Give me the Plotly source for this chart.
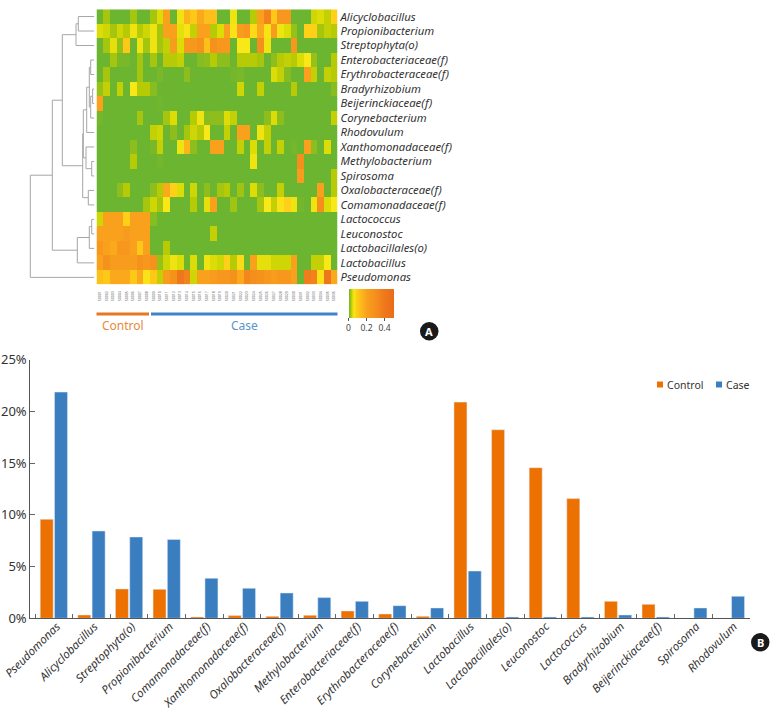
import plotly.graph_objects as go

W, H = 770, 709

# ---- Panel A data ----
row_names = ["Alicyclobacillus", "Propionibacterium", "Streptophyta(o)", "Enterobacteriaceae(f)",
             "Erythrobacteraceae(f)", "Bradyrhizobium", "Beijerinckiaceae(f)", "Corynebacterium",
             "Rhodovulum", "Xanthomonadaceae(f)", "Methylobacterium", "Spirosoma",
             "Oxalobacteraceae(f)", "Comamonadaceae(f)", "Lactococcus", "Leuconostoc",
             "Lactobacillales(o)", "Lactobacillus", "Pseudomonas"]
sample_ids = ["S%04d" % (i + 1) for i in range(36)]

alicyclobacillus = [0,.02,0,0,0,.02,0,0,.02,.04,.2,0,.05,.15,.1,.18,.12,.12, 0,0,.05,0,0,.025,.2,.35,.1,.25,.25,0,0,0,.035,.04,.03,.08]
propionibacterium = [.04,.035,.02,.035,.025,.05,.025,.035,.05,.02,.2,.2,.045,.06,.03,.2,.2,.025, .04,.2,.06,.22,.25,.07,.18,.06,.22,.05,.04,.015,0,.08,.08,.02,.03,.025]
streptophyta = [0,.02,.045,.015,.1,0,.05,.02,.05,.02,.03,.22,.04,.25,.25,.28,.12,.28, .25,.25,0,.055,.055,0,.3,.05,0,0,0,.25,0,0,0,0,0,0]
enterobacteriaceae = [0,0,.02,.005,.005,0,.02,0,.02,0,.025,.025,.03,0,0,.01,.012,.025, .012,.012,0,.025,.025,.025,.02,0,.012,.025,.03,.025,.04,.055,.015,0,0,.025]
erythrobacteraceae = [0,.02,0,0,0,0,.02,0,0,.005,0,0,0,.012,0,0,0,0, 0,0,.003,.005,0,0,0,0,.04,.03,.01,0,0,.2,.03,0,.03,.025]
bradyrhizobium = [.015,.03,0,.03,0,.055,.025,.025,.01,0,0,0,0,0,0,0,0,0, 0,0,0,.035,0,0,.03,0,0,0,0,.025,0,0,0,0,0,.01]
beijerinckiaceae = [.2,0,0,0,0,0,0,0,0,.002,0,0,0,0,0,0,0,0, 0,0,0,0,0,0,0,0,0,0,0,0,0,0,0,0,0,0]
corynebacterium = [.003,0,0,0,0,0,.02,0,0,0,.02,.04,0,0,.025,.05,.01,.012, .012,.04,.03,0,0,0,0,.012,.04,.012,0,0,0,0,0,0,0,.03]
rhodovulum = [0,0,0,0,0,0,0,0,.03,.035,0,.012,0,.02,.035,.025,.055,0, 0,.03,0,.2,.2,0,.05,.03,0,0,0,0,0,0,0,0,0,0]
xanthomonadaceae = [0,0,0,0,0,.012,0,0,.005,.03,0,0,.05,.15,.012,0,0,.2, .2,0,0,.03,0,.04,0,.03,0,.03,0,.003,0,.2,.012,0,.04,0]
methylobacterium = [0,0,0,0,0,.025,0,0,0,.003,0,0,0,0,0,0,0,0, 0,0,0,0,0,.05,0,0,0,0,0,0,.3,0,0,0,0,0]
spirosoma = [0,0,0,0,0,0,0,0,0,0,0,0,0,0,0,0,0,0, 0,0,0,0,0,0,0,0,0,0,0,0,.22,0,0,0,0,.025]
oxalobacteraceae = [0,0,0,.012,.025,0,0,0,.012,.025,.18,.08,.04,0,.035,0,.012,0, .02,.025,0,.018,0,.04,.012,0,0,.03,0,0,0,0,0,.2,0,.025]
comamonadaceae = [0,0,0,0,0,0,0,.02,.035,.02,.055,0,0,0,.025,0,.045,.2, 0,0,.018,0,0,0,.02,.055,.03,.06,.08,.05,.003,0,.05,.3,.04,.055]
lactococcus = [.035,.2,.2,.2,.08,.2,.2,.2,.01,0,0,0,0,0,0,0,0,0, 0,0,0,0,0,0,0,0,0,0,0,0,0,0,0,0,0,0]
leuconostoc = [.2,.2,.2,.2,.22,.2,.2,.2,0,0,0,0,0,0,0,0,0,.03, 0,0,0,0,0,0,0,0,0,0,0,0,0,0,0,0,0,0]
lactobacillales = [.25,.2,.18,.25,.25,.2,.1,.2,0,0,.025,0,0,0,0,0,0,0, 0,0,0,0,0,0,0,0,0,0,0,0,0,0,0,0,0,0]
lactobacillus = [.2,.28,.22,.22,.22,.22,.28,.25,.28,.015,.035,.05,.04,0,.04,0,.05,.04, .035,.08,.025,.07,0,.2,.045,.045,.035,.035,.035,.2,0,0,.03,.03,.055,0]
pseudomonas = [.12,.1,.18,.18,.18,.1,.18,.06,.1,.03,.22,.28,.4,.35,.035,.2,.2,.22, .25,.25,.28,.18,.33,.3,.28,.25,.22,.25,.25,.2,0,.38,.35,.06,.4,.18]

heat_rows = [alicyclobacillus, propionibacterium, streptophyta, enterobacteriaceae, erythrobacteraceae,
             bradyrhizobium, beijerinckiaceae, corynebacterium, rhodovulum, xanthomonadaceae,
             methylobacterium, spirosoma, oxalobacteraceae, comamonadaceae, lactococcus, leuconostoc,
             lactobacillales, lactobacillus, pseudomonas]

color_stops_value = [0, .012, .025, .04, .055, .08, .12, .2, .3, .4, .5]
color_stops_color = ["#6BB531", "#8DBE1E", "#B6CA06", "#DCDC06", "#F8E818", "#FFD018",
                     "#FDC01A", "#F9A01D", "#F48E1C", "#EF771B", "#E96D18"]

# dendrogram merges: children (leaf row index, or 19 + merge number) and merge distance
merge_left = [3, 5, 20, 19, 22, 10, 9, 23, 12, 26, 0, 29, 30, 14, 32, 33, 31, 35]
merge_right = [4, 6, 7, 21, 8, 11, 24, 25, 13, 27, 1, 2, 28, 15, 16, 17, 34, 18]
merge_dist = [3.6, 1.7, 3.6, 5, 7.6, 2.6, 8.3, 11, 6, 11.6, 16, 18.3, 32, 2.6, 5, 17, 42, 64]

# ---- Panel B data ----
bar_categories = ["Pseudomonas", "Alicyclobacillus", "Streptophyta(o)", "Propionibacterium",
                  "Comamonadaceae(f)", "Xanthomonadaceae(f)", "Oxalobacteraceae(f)", "Methylobacterium",
                  "Enterobacteriaceae(f)", "Erythrobacteraceae(f)", "Corynebacterium", "Lactobacillus",
                  "Lactobacillales(o)", "Leuconostoc", "Lactococcus", "Bradyrhizobium",
                  "Beijerinckiaceae(f)", "Spirosoma", "Rhodovulum"]
control_values = [9.57, .32, 2.84, 2.8, .13, .26, .19, .29, .71, .42, .19, 20.9, 18.23, 14.56, 11.57, 1.64, 1.35, 0, 0]
case_values = [21.87, 8.44, 7.86, 7.63, 3.87, 2.9, 2.45, 2.0, 1.64, 1.22, 1.0, 4.57, .13, .13, .13, .32, .13, 1.0, 2.13]
y_tick_vals = [0, 5, 10, 15, 20, 25]
y_tick_text = ["0%", "5%", "10%", "15%", "20%", "25%"]

FONT = "Noto Sans"
ORANGE = "#ED7100"
BLUE = "#3A7EC0"
TEXT = "#333333"


def px(x):
    return x / W


def py(y):
    return 1 - y / H


# dendrogram segments built from the merge table
nodes = {i: (i, 0.0) for i in range(len(row_names))}
dx, dy = [], []
for k, (a, b, d) in enumerate(zip(merge_left, merge_right, merge_dist)):
    ya, da = nodes[a]
    yb, db = nodes[b]
    dx += [da, d, d, db, None]
    dy += [ya, ya, yb, yb, None]
    nodes[19 + k] = ((ya + yb) / 2, d)

span = max(color_stops_value)
colorscale = [[v / span, c] for v, c in zip(color_stops_value, color_stops_color)]

fig = go.Figure()
fig.add_trace(go.Heatmap(
    z=heat_rows, x=list(range(36)), y=list(range(19)),
    zmin=0, zmax=.5, colorscale=colorscale, xgap=0, ygap=0, hoverongaps=False,
    colorbar=dict(orientation="h", x=px(348.5), xanchor="left", y=py(288.7), yanchor="top",
                  lenmode="pixels", len=44.5, thicknessmode="pixels", thickness=29,
                  xpad=0, ypad=0, outlinewidth=0, ticks="outside", ticklen=3, tickwidth=1,
                  tickcolor="#555", tickvals=[0, .2, .4], ticktext=["0", "0.2", "0.4"],
                  tickfont=dict(family=FONT, size=8.5, color="#444")),
    xaxis="x", yaxis="y"))
fig.add_trace(go.Scatter(x=dx, y=dy, mode="lines", line=dict(color="#A6A6A6", width=1),
                         showlegend=False, hoverinfo="skip", xaxis="x2", yaxis="y"))
fig.add_trace(go.Bar(name="Control", x=bar_categories, y=control_values, marker_color=ORANGE,
                     xaxis="x3", yaxis="y3", showlegend=False))
fig.add_trace(go.Bar(name="Case", x=bar_categories, y=case_values, marker_color=BLUE,
                     xaxis="x3", yaxis="y3", showlegend=False))

shapes = [
    dict(type="rect", xref="paper", yref="paper", x0=px(96.5), x1=px(149), y0=py(312.5), y1=py(315.5),
         fillcolor="#E87722", line_width=0),
    dict(type="rect", xref="paper", yref="paper", x0=px(151), x1=px(337.5), y0=py(312.5), y1=py(315.5),
         fillcolor="#3D85C6", line_width=0),
    dict(type="circle", xref="paper", yref="paper", x0=px(420), x1=px(438.5), y0=py(322), y1=py(340.5),
         fillcolor="#1A1A1A", line_width=0),
    dict(type="circle", xref="paper", yref="paper", x0=px(751), x1=px(769.5), y0=py(633), y1=py(651.5),
         fillcolor="#1A1A1A", line_width=0),
    dict(type="rect", xref="paper", yref="paper", x0=px(657), x1=px(663), y0=py(381.5), y1=py(387.5),
         fillcolor=ORANGE, line_width=0),
    dict(type="rect", xref="paper", yref="paper", x0=px(716), x1=px(722), y0=py(381.5), y1=py(387.5),
         fillcolor=BLUE, line_width=0),
]


def label(x, y, text, color=TEXT, size=11.5, bold=False):
    return dict(xref="paper", yref="paper", x=px(x), y=py(y), text=("<b>%s</b>" % text) if bold else text,
                showarrow=False, xanchor="center", yanchor="middle",
                font=dict(family=FONT, size=size, color=color))


annotations = [
    label(122.5, 326, "Control", "#E58A3C", 12),
    label(244, 326, "Case", "#5B93CC", 12),
    label(429.2, 331.3, "A", "white", 11, True),
    label(760.2, 642.3, "B", "white", 11, True),
    label(685, 384.5, "Control", TEXT, 10.5),
    label(738, 384.5, "Case", TEXT, 10.5),
]

fig.update_layout(
    width=W, height=H, margin=dict(l=0, r=0, t=0, b=0), autosize=False,
    paper_bgcolor="white", plot_bgcolor="white", showlegend=False,
    barmode="group", bargap=.24, bargroupgap=.09,
    shapes=shapes, annotations=annotations,
    xaxis=dict(domain=[px(96.5), px(337.5)], range=[-.5, 35.5], tickmode="array", tickvals=list(range(36)),
               ticktext=sample_ids, tickangle=-90, tickfont=dict(family=FONT, size=3.5, color="#666666"),
               ticks="", showgrid=False, zeroline=False, showline=False, anchor="y", ticklabelstandoff=5,
               automargin=False),
    yaxis=dict(domain=[py(284.6), py(9.3)], range=[18.5, -.5], side="right", tickmode="array",
               tickvals=list(range(19)), ticktext=["<i>%s</i>" % n for n in row_names],
               tickfont=dict(family=FONT, size=11.3, color=TEXT), ticks="", showgrid=False,
               zeroline=False, showline=False, anchor="x", automargin=False, ticklabelstandoff=2),
    xaxis2=dict(domain=[0, px(94.3)], range=[94.3, 0], visible=False, anchor="y", automargin=False),
    xaxis3=dict(domain=[px(30.3), px(749.7)], range=[-.626, 18.5], type="category",
                categoryorder="array", categoryarray=bar_categories,
                tickson="boundaries", ticks="inside", ticklen=4, tickcolor="#666", tickwidth=1,
                showline=True, linecolor="#555", linewidth=1, showgrid=False, zeroline=False,
                tickmode="array", tickvals=bar_categories,
                ticktext=["<i>%s</i>" % n for n in bar_categories],
                tickangle=-45, tickfont=dict(family=FONT, size=11.5, color=TEXT), anchor="y3", automargin=False,
                ticklabelstandoff=-4, ticklabelshift=3),
    yaxis3=dict(domain=[py(618.3), py(359.7)], range=[0, 25], tickmode="array", tickvals=y_tick_vals,
                ticktext=y_tick_text, ticks="inside", ticklen=5, tickcolor="#666", tickwidth=1,
                showline=True, linecolor="#555", linewidth=1, showgrid=False, zeroline=False,
                tickfont=dict(family=FONT, size=13, color=TEXT), anchor="x3", automargin=False),
)

fig.write_html("out.html", post_script="document.body.style.margin='0';",
               config=dict(displayModeBar=False))
